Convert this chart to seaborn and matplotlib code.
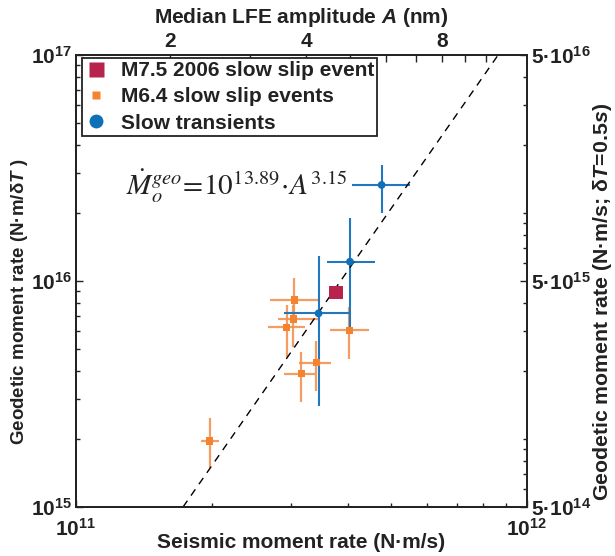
import numpy as np
import matplotlib
matplotlib.use("Agg")
import matplotlib.pyplot as plt
import seaborn as sns
import pandas as pd
from matplotlib import ticker
from matplotlib.lines import Line2D

# ---------------- data ----------------
# M7.5 2006 slow slip event
big_x = [3.77e11]
big_y = [8.91e15]

# M6.4 slow slip events
sse_x = [3.05e11, 3.03e11, 2.93e11, 4.04e11, 3.41e11, 3.16e11, 1.98e11]
sse_y = [8.24e15, 6.79e15, 6.24e15, 6.05e15, 4.35e15, 3.89e15, 1.96e15]
sse_xlo = [2.69e11, 2.80e11, 2.67e11, 3.66e11, 3.12e11, 2.89e11, 1.89e11]
sse_xhi = [3.44e11, 3.44e11, 3.22e11, 4.46e11, 3.67e11, 3.39e11, 2.08e11]
sse_ylo = [6.95e15, 5.12e15, 4.62e15, 4.50e15, 3.25e15, 2.91e15, 1.49e15]
sse_yhi = [1.034e16, 7.83e15, 7.83e15, 7.69e15, 5.44e15, 4.87e15, 2.48e15]

# Slow transients
st_x = [4.76e11, 4.05e11, 3.45e11]
st_y = [2.66e16, 1.217e16, 7.19e15]
st_xlo = [4.09e11, 3.61e11, 2.89e11]
st_xhi = [5.50e11, 4.60e11, 4.05e11]
st_ylo = [2.005e16, 6.07e15, 2.80e15]
st_yhi = [3.26e16, 1.894e16, 1.29e16]

# fitted scaling line (as drawn)
fit_x = [1.727e11, 8.63e11]
fit_y = [1.0e15, 1.0e17]

# axis conversions
lfe_k = 8.1e10          # seismic moment rate per nm of LFE amplitude
delta_T = 0.5           # right axis factor
top_ticks = [2, 3, 4, 5, 6, 7, 8, 9, 10]
top_labels = [2, 4, 8]
legend_labels = ["M7.5 2006 slow slip event", "M6.4 slow slip events", "Slow transients"]

# ---------------- style ----------------
sns.set_theme(style="ticks")
plt.rcParams["font.family"] = ["Liberation Sans", "DejaVu Sans"]
plt.rcParams["font.weight"] = "normal"
plt.rcParams["axes.labelweight"] = "bold"
plt.rcParams["mathtext.fontset"] = "custom"
plt.rcParams["mathtext.rm"] = "Liberation Sans:bold"
plt.rcParams["mathtext.bf"] = "Liberation Sans:bold"
plt.rcParams["mathtext.it"] = "Liberation Sans:italic:bold"
plt.rcParams["mathtext.sf"] = "Liberation Sans:bold"

ink = "#222222"
red = "#B7234C"
orange = "#F5822F"
orange_err = "#F39150"
blue = "#0E70B9"
blue_err = "#2278BE"

fig = plt.figure(figsize=(6.15, 5.56), dpi=100)
ax = fig.add_axes([76 / 615, 1 - 507 / 556, 451 / 615, 452 / 556])
ax.set_xscale("log")
ax.set_yscale("log")

# error bars
sx, sy = np.array(sse_x), np.array(sse_y)
ax.errorbar(sx, sy, xerr=[sx - np.array(sse_xlo), np.array(sse_xhi) - sx],
            yerr=[sy - np.array(sse_ylo), np.array(sse_yhi) - sy],
            fmt="none", ecolor=orange_err, elinewidth=1.6, alpha=0.9, capsize=0, zorder=2)
tx, ty = np.array(st_x), np.array(st_y)
ax.errorbar(tx, ty, xerr=[tx - np.array(st_xlo), np.array(st_xhi) - tx],
            yerr=[ty - np.array(st_ylo), np.array(st_yhi) - ty],
            fmt="none", ecolor=blue_err, elinewidth=1.5, capsize=0, zorder=2)

# fit line
ax.plot(fit_x, fit_y, color="black", lw=1.0, linestyle=(0, (5.5, 4.5)), zorder=3)

# markers (seaborn)
sns.scatterplot(data=pd.DataFrame({"x": sse_x, "y": sse_y}), x="x", y="y", ax=ax,
                marker="s", s=5.2 ** 2, color=orange, edgecolor="none", linewidth=0,
                zorder=4, legend=False)
sns.scatterplot(data=pd.DataFrame({"x": st_x, "y": st_y}), x="x", y="y", ax=ax,
                marker="o", s=5.6 ** 2, color=blue, edgecolor="none", linewidth=0,
                zorder=4, legend=False)
sns.scatterplot(data=pd.DataFrame({"x": big_x, "y": big_y}), x="x", y="y", ax=ax,
                marker="s", s=9.6 ** 2, color=red, edgecolor="none", linewidth=0,
                zorder=5, legend=False)

ax.set_xlim(1e11, 1e12)
ax.set_ylim(1e15, 1e17)

# bottom / left ticks
ax.xaxis.set_major_locator(ticker.FixedLocator([1e11, 1e12]))
ax.xaxis.set_major_formatter(ticker.FixedFormatter([r"$10^{11}$", r"$10^{12}$"]))
ax.xaxis.set_minor_locator(ticker.LogLocator(base=10, subs=np.arange(2, 10)))
ax.xaxis.set_minor_formatter(ticker.NullFormatter())
ax.yaxis.set_major_locator(ticker.FixedLocator([1e15, 1e16, 1e17]))
ax.yaxis.set_major_formatter(ticker.FixedFormatter([r"$10^{15}$", r"$10^{16}$", r"$10^{17}$"]))
ax.yaxis.set_minor_locator(ticker.LogLocator(base=10, subs=np.arange(2, 10)))
ax.yaxis.set_minor_formatter(ticker.NullFormatter())
ax.tick_params(which="both", direction="in", top=False, right=False, width=1, labelsize=15,
               colors=ink)
ax.tick_params(which="major", length=5)
ax.tick_params(which="minor", length=3)
ax.tick_params(axis="x", pad=8)
ax.tick_params(axis="y", pad=3)
ax.set_xlabel("Seismic moment rate (N·m/s)", fontsize=15, fontweight="bold",
              labelpad=-5, color=ink)
ax.set_ylabel("Geodetic moment rate (N·m/δ$T$ )", fontsize=13.5, fontweight="bold", color=ink)
ax.yaxis.set_label_coords(-0.102, 0.4535)
for s in ax.spines.values():
    s.set_linewidth(1.1)
    s.set_color(ink)

# right axis
ax2 = ax.twinx()
ax2.set_yscale("log")
ax2.set_ylim(1e15 * delta_T, 1e17 * delta_T)
ax2.yaxis.set_major_locator(ticker.FixedLocator([5e14, 5e15, 5e16]))
ax2.yaxis.set_major_formatter(ticker.FixedFormatter(
    [r"$5·10^{14}$", r"$5·10^{15}$", r"$5·10^{16}$"]))
ax2.yaxis.set_minor_locator(ticker.LogLocator(base=10, subs=np.arange(1, 10)))
ax2.yaxis.set_minor_formatter(ticker.NullFormatter())
ax2.tick_params(which="both", direction="in", width=1, labelsize=15, pad=3, colors=ink)
ax2.tick_params(which="major", length=5)
ax2.tick_params(which="minor", length=3)
ax2.set_ylabel(r"Geodetic moment rate (N·m/s; δ$\mathit{T\!=\!0.5s}$)", fontsize=15.3,
               fontweight="bold", color=ink)
ax2.yaxis.set_label_coords(1.143, 0.4535)
for s in ax2.spines.values():
    s.set_linewidth(1.1)
    s.set_color(ink)

# top axis
ax3 = ax.twiny()
ax3.set_xscale("log")
ax3.set_xlim(1e11 / lfe_k, 1e12 / lfe_k)
ax3.xaxis.set_major_locator(ticker.FixedLocator(top_ticks))
ax3.xaxis.set_major_formatter(ticker.FuncFormatter(
    lambda v, p: f"${v:g}$" if any(abs(v - t) < 1e-6 for t in top_labels) else ""))
ax3.xaxis.set_minor_locator(ticker.NullLocator())
ax3.tick_params(which="both", direction="in", width=1, length=5, labelsize=15, pad=3,
                colors=ink)
ax3.set_xlabel("Median LFE amplitude $A$ (nm)", fontsize=15, fontweight="bold",
               labelpad=6, color=ink)
for s in ax3.spines.values():
    s.set_linewidth(1.1)
    s.set_color(ink)

# formula
ax3.text(50 / 451, (507 - 195) / 452,
         r"$\dot{M}_{o}^{geo}\!=\!10^{\mathit{13.89}}\!\cdot\!A^{\mathit{3.15}}$",
         transform=ax.transAxes, fontsize=21, math_fontfamily="stix",
         fontweight="normal", ha="left", va="baseline", color=ink)

# legend
handles = [
    Line2D([], [], marker="s", ls="none", color=red, markersize=10.8, mec="none"),
    Line2D([], [], marker="s", ls="none", color=orange, markersize=5.6, mec="none"),
    Line2D([], [], marker="o", ls="none", color=blue, markersize=10.0, mec="none"),
]
leg = ax3.legend(handles, legend_labels, loc="upper left",
                 bbox_to_anchor=(6 / 451, 449 / 452), bbox_transform=ax.transAxes,
                 borderaxespad=0, frameon=True, fancybox=False, edgecolor=ink,
                 framealpha=1, prop={"size": 15, "weight": "bold"},
                 handlelength=1.0, handletextpad=0.7,
                 labelspacing=0.35, borderpad=0.15)
leg.get_frame().set_linewidth(1.3)
for t in leg.get_texts():
    t.set_color(ink)

fig.savefig("out.png", dpi=100)
